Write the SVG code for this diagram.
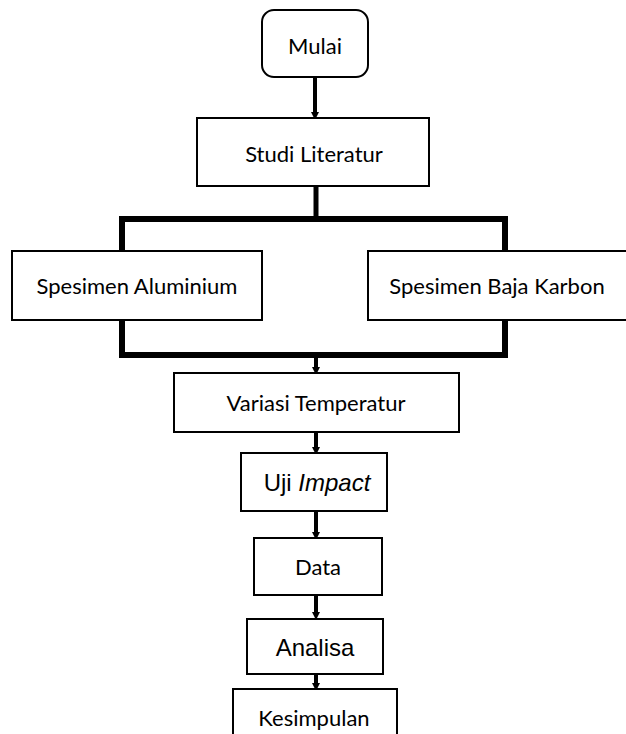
<svg xmlns="http://www.w3.org/2000/svg" width="626" height="734" viewBox="0 0 626 734">
<defs>
<style>
.box{fill:#fff;stroke:#000;stroke-width:2}
.t{font-family:Lato,"Open Sans",sans-serif;font-size:22px;fill:#000;text-anchor:middle}
.a{font-family:"Liberation Sans",Arial,sans-serif;font-size:24px;fill:#000;text-anchor:middle}
.bar{fill:none;stroke:#000;stroke-width:6;stroke-linejoin:miter}
.shaft{stroke:#000;stroke-width:4;fill:none}
</style>
<marker id="ah" markerWidth="3" markerHeight="2" refX="0" refY="1" orient="auto" markerUnits="strokeWidth">
<path d="M0,0 L2,1 L0,2 Z" fill="#000"/>
</marker>
</defs>
<rect width="626" height="734" fill="#fff"/>
<g id="connectors">
<line class="shaft" x1="315" y1="77" x2="315" y2="112" marker-end="url(#ah)"/>
<line x1="316" y1="186" x2="316" y2="218" stroke="#000" stroke-width="5"/>
<polyline class="bar" points="122,251 122,219 505,219 505,251"/>
<polyline class="bar" points="122,320 122,355 505,355 505,320"/>
<line class="shaft" x1="316" y1="358" x2="316" y2="367" marker-end="url(#ah)"/>
<line class="shaft" x1="316" y1="432" x2="316" y2="447" marker-end="url(#ah)"/>
<line class="shaft" x1="316" y1="511" x2="316" y2="532" marker-end="url(#ah)"/>
<line class="shaft" x1="316" y1="595" x2="316" y2="612" marker-end="url(#ah)"/>
<line class="shaft" x1="316" y1="674" x2="316" y2="683" marker-end="url(#ah)"/>
</g>
<g id="mulai">
<rect class="box" x="262" y="10" width="106" height="67" rx="12"/>
<text class="t" x="315" y="54">Mulai</text>
</g>
<g id="studi">
<rect class="box" x="197" y="118" width="232" height="68"/>
<text class="t" x="314" y="162">Studi Literatur</text>
</g>
<g id="aluminium">
<rect class="box" x="12" y="251" width="250" height="69"/>
<text class="t" x="137" y="294">Spesimen Aluminium</text>
</g>
<g id="baja">
<rect class="box" x="368" y="251" width="264" height="69"/>
<text class="t" x="497" y="294">Spesimen Baja Karbon</text>
</g>
<g id="variasi">
<rect class="box" x="174" y="373" width="285" height="59"/>
<text class="t" x="316" y="411">Variasi Temperatur</text>
</g>
<g id="uji">
<rect class="box" x="241" y="453" width="146" height="58"/>
<text class="a" x="317" y="491">Uji <tspan font-style="italic">Impact</tspan></text>
</g>
<g id="data">
<rect class="box" x="254" y="538" width="128" height="57"/>
<text class="t" x="318" y="575">Data</text>
</g>
<g id="analisa">
<rect class="box" x="247" y="619" width="136" height="55"/>
<text class="a" x="315" y="656">Analisa</text>
</g>
<g id="kesimpulan">
<rect class="box" x="233" y="689" width="164" height="60"/>
<text class="t" x="314" y="726">Kesimpulan</text>
</g>
</svg>
